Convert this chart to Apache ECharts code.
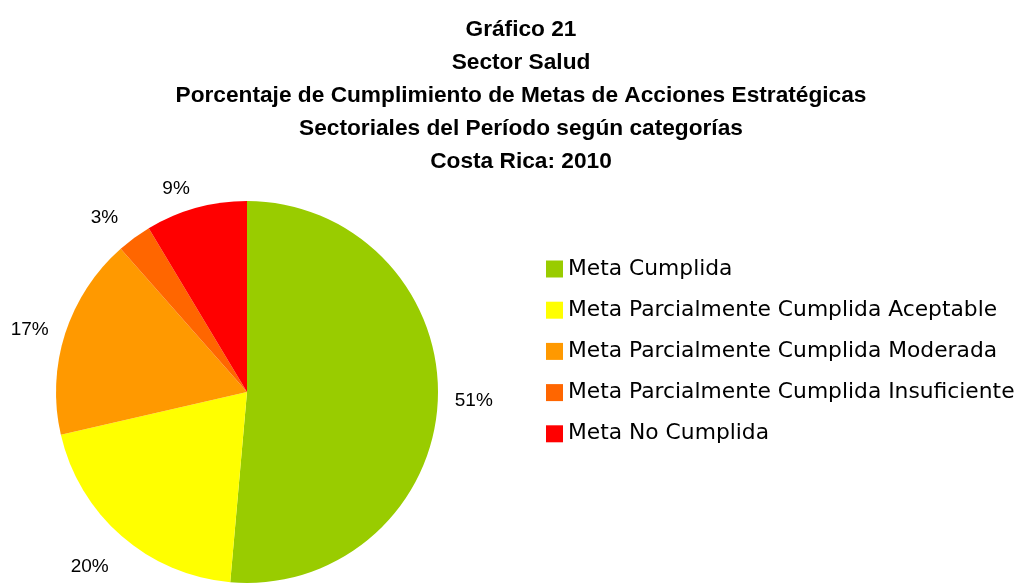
<!DOCTYPE html>
<html>
<head>
<meta charset="utf-8">
<script src="https://cdn.jsdelivr.net/npm/echarts@6/dist/echarts.min.js"></script>
<style>
html,body{margin:0;padding:0;background:#fff;}
#chart{width:1022px;height:583px;}
</style>
</head>
<body>
<div id="chart"></div>
<script>
// categorias y porcentajes
var categorias = [
	'Meta Cumplida',
	'Meta Parcialmente Cumplida Aceptable',
	'Meta Parcialmente Cumplida Moderada',
	'Meta Parcialmente Cumplida Insuficiente',
	'Meta No Cumplida'
];
var porcentajes = [51.4, 20.0, 17.1, 2.9, 8.6];
var colores = ['#99CC00', '#FFFF00', '#FF9900', '#FF6600', '#FF0000'];
var titulo = ['Gráfico 21', 'Sector Salud', 'Porcentaje de Cumplimiento de Metas de Acciones Estratégicas', 'Sectoriales del Período según categorías', 'Costa Rica: 2010'];

var myChart = echarts.init(document.getElementById('chart'));

var datos = [];
for(var i=0;i<categorias.length;i++){
	datos.push({name:categorias[i], value:porcentajes[i], itemStyle:{color:colores[i]}});
}

var option = {
	animation:false,
	title:{
		text:titulo.join('\n'),
		left:516,
		textAlign:'center',
		top:8,
		textStyle:{
			fontFamily:'Liberation Sans',
			fontWeight:'bold',
			fontSize:22.7,
			lineHeight:33,
			color:'#000'
		}
	},
	legend:{
		orient:'vertical',
		left:546,
		top:258,
		padding:0,
		icon:'rect',
		itemWidth:17,
		itemHeight:17,
		itemGap:19.2,
		textStyle:{
			fontFamily:'DejaVu Sans',
			fontSize:21.8,
			lineHeight:20,
			color:'#000'
		},
		data:categorias
	},
	series:[
		{
			name:'Cumplimiento',
			type:'pie',
			center:[247,392],
			radius:191,
			startAngle:90,
			clockwise:true,
			percentPrecision:0,
			avoidLabelOverlap:false,
			label:{
				show:true,
				position:'outside',
				formatter:'{d}%',
				fontFamily:'Liberation Sans',
				fontSize:19,
				color:'#000'
			},
			labelLine:{
				show:false,
				length:12,
				length2:0
			},
			// Excel deja la etiqueta del 20% mas abajo, junto al borde
			labelLayout:function(params){
				if(params.dataIndex === 1){
					return {dy:22};
				}
				if(params.dataIndex === 3){
					return {dy:-10, dx:-4};
				}
				if(params.dataIndex === 4){
					return {dy:-8, dx:2};
				}
			},
			data:datos
		}
	]
};
myChart.setOption(option);
</script>
</body>
</html>
